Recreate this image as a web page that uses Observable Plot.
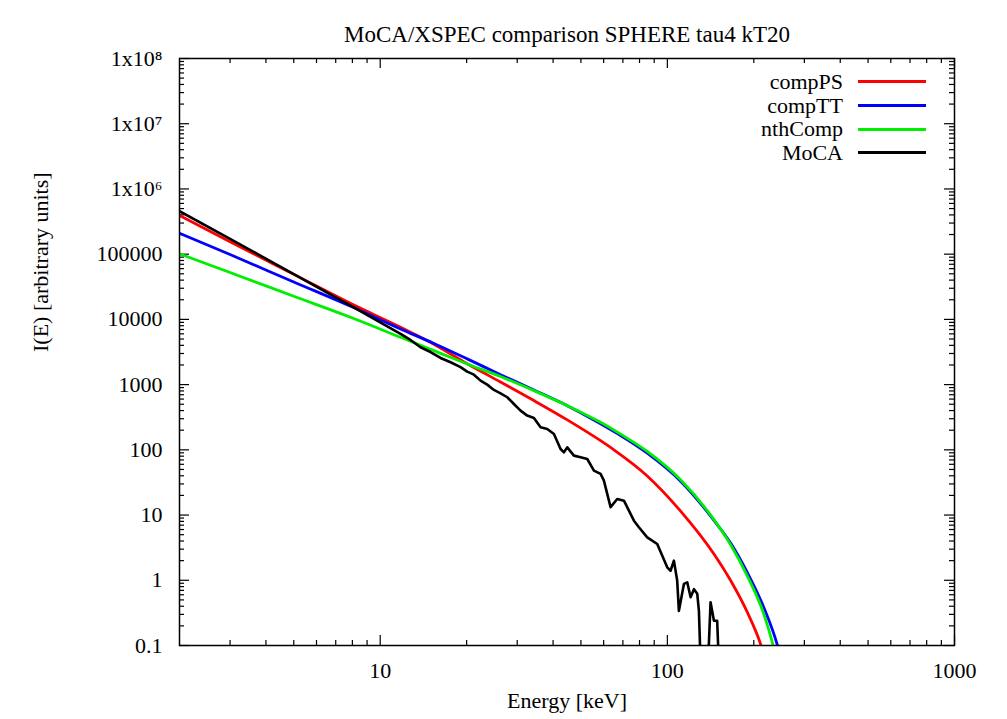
<!DOCTYPE html>
<html><head><meta charset="utf-8">
<script src="https://cdn.jsdelivr.net/npm/d3@7"></script>
<script src="https://cdn.jsdelivr.net/npm/@observablehq/plot@0.6"></script>
<style>
html,body{margin:0;padding:0;background:#fff;}
#wrap{position:relative;width:1007px;height:719px;}
#legend{position:absolute;left:650px;top:70px;font-family:"Liberation Serif",serif;font-size:22px;color:#000;}
.row{display:flex;align-items:center;height:23.7px;}
.lab{width:193px;text-align:right;line-height:1;}
.sw{width:68px;height:3px;margin-left:15px;}
</style></head><body>
<div id="wrap"><div id="chart"></div><div id="legend"></div></div>
<script>
// ---- data ----
const titleText = "MoCA/XSPEC comparison SPHERE tau4 kT20";
const xLabel = "Energy [keV]";
const yLabel = "I(E) [arbitrary units]";

const seriesNames = ["compPS", "compTT", "nthComp", "MoCA"];
const seriesColors = ["#ff0000", "#0000ff", "#00ee00", "#000000"];

const compPSE = [2,3,5,8,11.77,15.38,20.09,26.25,34.3,44.81,58.55,65.14,85.1,111.2,145.3,166.1,189.8,211.2,225];
const compPSI = [391000,155000,49000,17000,7590,4170,2090,1096,569,288,138,100,39.8,11.5,2.53,0.99,0.324,0.105,0.04];

const compTTE = [2,3,5,8,11.77,15.38,20.09,26.25,34.3,44.81,58.55,68.74,85.1,111.2,145.3,166.1,189.8,216.9,241.5,255];
const compTTI = [209000,98600,37500,15500,7140,4270,2480,1420,828,476,251,166,89,33.1,8.3,3.72,1.32,0.38,0.102,0.04];

const nthCompE = [2,3,5,8,11.77,15.38,20.09,26.25,34.3,44.81,58.55,68.74,85.1,111.2,145.3,166.1,189.8,216.9,232,245];
const nthCompI = [101000,52400,22600,10500,5320,3320,2070,1330,809,476,264,174,94.4,34.7,8.5,3.51,1.17,0.30,0.112,0.04];

const mocaE = [2,3,5,8,11.77,12.75,13.82,14.97,16.22,17.58,19.05,20.09,21.2,22.36,23.59,24.89,26.25,27.7,29.21,30.82,32.51,34.3,36.18,38.17,40.27,42.48,43.63,44.81,47.27,49.87,52.61,55.5,58.55,60.12,63.43,66.9,70.6,76.5,79.6,85.1,92.2,99.9,102.6,105.4,108.2,109.7,114.2,117.3,120.5,123.8,127.1,128.8,130.6,135.9,139.5,141.4,145.3,149.1,151.2];
const mocaI = [455000,172000,49300,15700,5980,4840,3740,3160,2560,2200,1850,1580,1420,1150,1000,828,736,640,505,399,335,308,222,209,175,103,91.6,109,81.5,76.7,72.4,48,42.7,33.7,13.2,17.6,16.6,8.2,6.5,4.55,3.6,1.58,1.4,2.0,0.99,0.34,0.88,0.93,0.55,0.73,0.62,0.34,0.05,0.05,0.105,0.46,0.24,0.24,0.05];

const xMajor = [10, 100, 1000];
const xTickLabels = ["10", "100", "1000"];
const xMinor = [3,4,5,6,7,8,9,20,30,40,50,60,70,80,90,200,300,400,500,600,700,800,900];
const yMajor = [0.1, 1, 10, 100, 1000, 10000, 100000, 1e6, 1e7, 1e8];
const yTickLabels = ["0.1", "1", "10", "100", "1000", "10000", "100000", "1x10\u2076", "1x10\u2077", "1x10\u2078"];

// ---- build table ----
function rows(name, E, I) { return E.map((e, i) => ({series: name, E: e, I: I[i]})); }
const smooth = [
  ...rows("compPS", compPSE, compPSI),
  ...rows("compTT", compTTE, compTTI),
  ...rows("nthComp", nthCompE, nthCompI)
];
const moca = rows("MoCA", mocaE, mocaI);
const yMinor = [];
yMajor.slice(0, -1).forEach(m => { for (let k = 2; k <= 9; k++) yMinor.push(+(m * k).toPrecision(3)); });

// ---- layout ----
const W = 1007, H = 719, mL = 179, mR = 53, mT = 58, mB = 74;
const pw = W - mL - mR, ph = H - mT - mB;
const font = '"Liberation Serif", "Times New Roman", serif';

const chart = Plot.plot({
  width: W, height: H,
  marginLeft: mL, marginRight: mR, marginTop: mT, marginBottom: mB,
  style: {fontFamily: font, fontSize: "22px", background: "white", color: "black", overflow: "visible"},
  x: {type: "log", domain: [2, 1000]},
  y: {type: "log", domain: [0.1, 1e8]},
  color: {domain: seriesNames, range: seriesColors},
  marks: [
    // inward ticks on all four sides
    Plot.tickX(xMinor, {x: d => d, insetTop: ph - 5, stroke: "black", strokeWidth: 1.2}),
    Plot.tickX(xMinor, {x: d => d, insetBottom: ph - 5, stroke: "black", strokeWidth: 1.2}),
    Plot.tickX(xMajor, {x: d => d, insetTop: ph - 10, stroke: "black", strokeWidth: 1.2}),
    Plot.tickX(xMajor, {x: d => d, insetBottom: ph - 10, stroke: "black", strokeWidth: 1.2}),
    Plot.tickY(yMinor, {y: d => d, insetRight: pw - 5, stroke: "black", strokeWidth: 1.2}),
    Plot.tickY(yMinor, {y: d => d, insetLeft: pw - 5, stroke: "black", strokeWidth: 1.2}),
    Plot.tickY(yMajor, {y: d => d, insetRight: pw - 10, stroke: "black", strokeWidth: 1.2}),
    Plot.tickY(yMajor, {y: d => d, insetLeft: pw - 10, stroke: "black", strokeWidth: 1.2}),
    Plot.axisX({ticks: xMajor, tickSize: 0, tickPadding: 17, label: null,
      tickFormat: d => xTickLabels[xMajor.indexOf(d)]}),
    Plot.axisY({ticks: yMajor, tickSize: 0, tickPadding: 17, label: null,
      tickFormat: d => yTickLabels[yMajor.indexOf(d)]}),
    Plot.line(smooth, {x: "E", y: "I", z: "series", stroke: "series", strokeWidth: 2.8,
      curve: "monotone-x", clip: true}),
    Plot.line(moca, {x: "E", y: "I", stroke: "series", strokeWidth: 2.6, clip: true}),
    Plot.frame({stroke: "black", strokeWidth: 1.5}),
    Plot.text([titleText], {text: d => d, frameAnchor: "top", dy: -33, fontSize: 23}),
    Plot.text([xLabel], {text: d => d, frameAnchor: "bottom", dy: 62, fontSize: 22}),
    Plot.text([yLabel], {text: d => d, frameAnchor: "left", dx: -139, rotate: -90, fontSize: 22})
  ]
});
document.getElementById("chart").appendChild(chart);

// ---- legend ----
const legend = document.getElementById("legend");
seriesNames.forEach((n, i) => {
  const r = document.createElement("div"); r.className = "row";
  const l = document.createElement("span"); l.className = "lab"; l.textContent = n;
  const s = document.createElement("span"); s.className = "sw"; s.style.background = seriesColors[i];
  r.appendChild(l); r.appendChild(s); legend.appendChild(r);
});
</script>
</body></html>
